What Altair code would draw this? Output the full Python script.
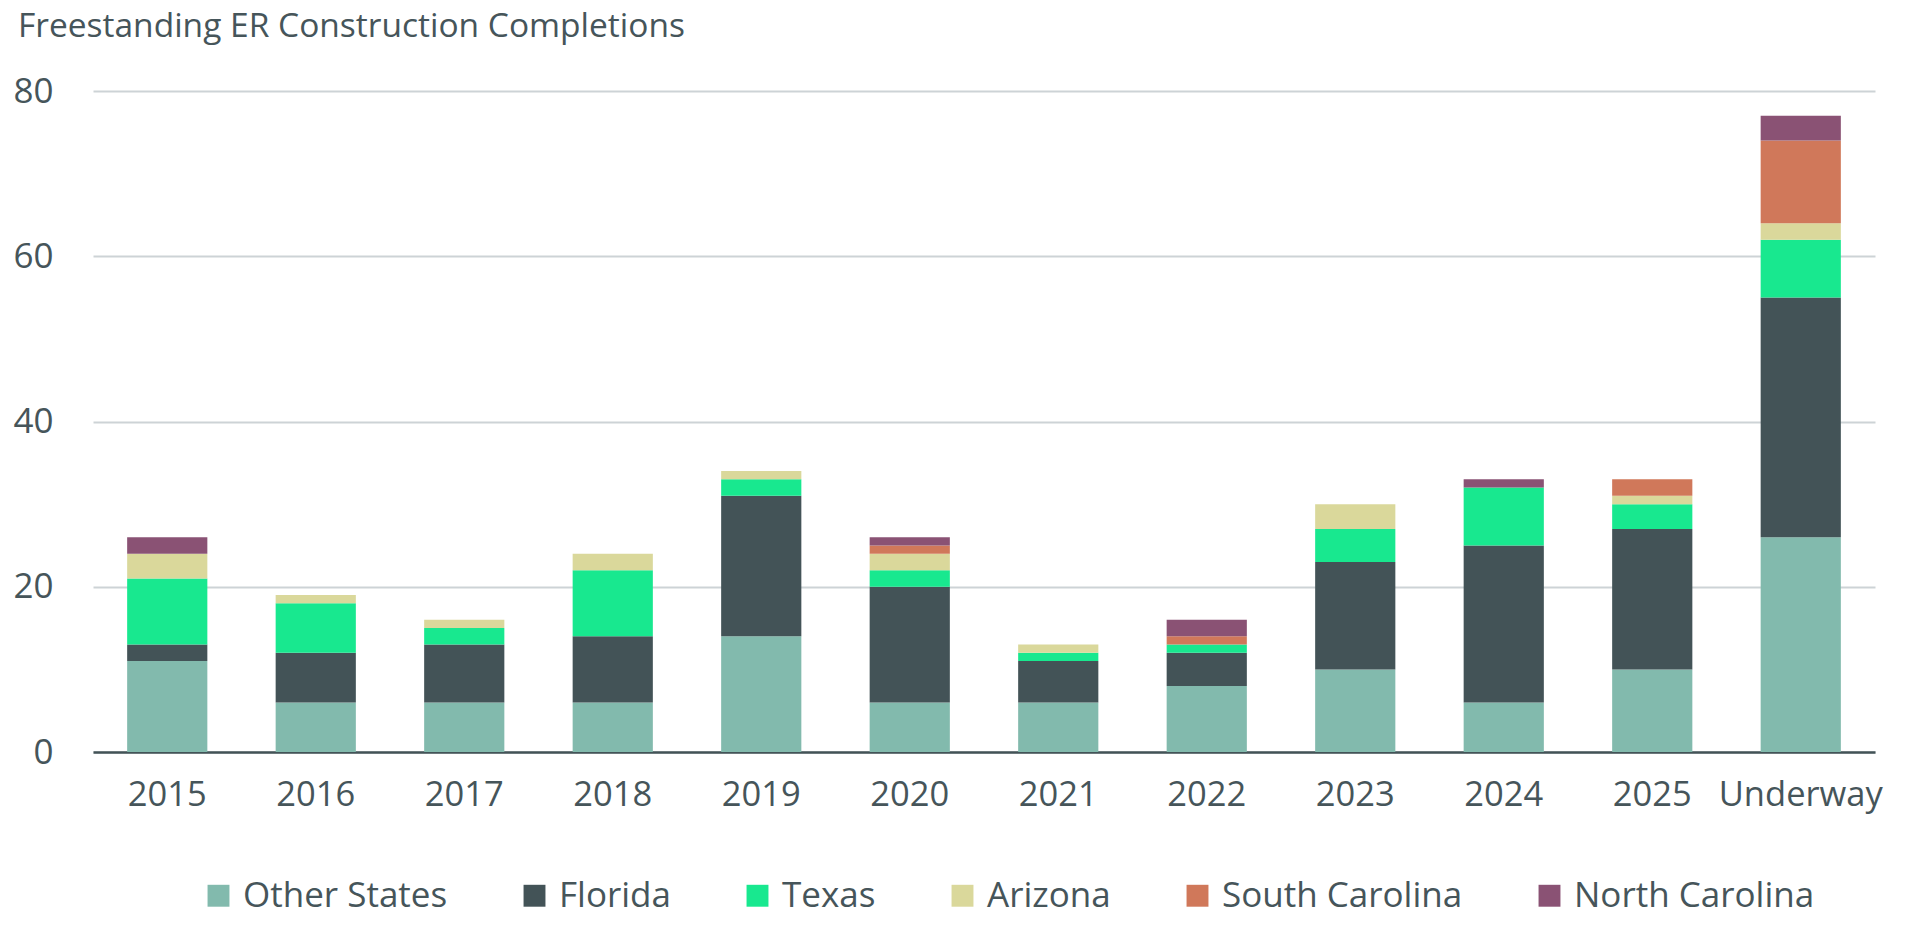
import altair as alt
import pandas as pd

# Completions per period, by state group
periods = ["2015", "2016", "2017", "2018", "2019", "2020", "2021", "2022",
           "2023", "2024", "2025", "Underway"]
states = ["Other States", "Florida", "Texas", "Arizona", "South Carolina", "North Carolina"]
colors = ["#82baad", "#435357", "#18e88f", "#dad89b", "#d0785a", "#8a5274"]

other_states   = [11, 6, 6, 6, 14, 6, 6, 8, 10, 6, 10, 26]
florida        = [2, 6, 7, 8, 17, 14, 5, 4, 13, 19, 17, 29]
texas          = [8, 6, 2, 8, 2, 2, 1, 1, 4, 7, 3, 7]
arizona        = [3, 1, 1, 2, 1, 2, 1, 0, 3, 0, 1, 2]
south_carolina = [0, 0, 0, 0, 0, 1, 0, 1, 0, 0, 2, 10]
north_carolina = [2, 0, 0, 0, 0, 1, 0, 2, 0, 1, 0, 3]

series = [other_states, florida, texas, arizona, south_carolina, north_carolina]

rows = []
for idx, (state, values) in enumerate(zip(states, series)):
    for period, v in zip(periods, values):
        rows.append({"Period": period, "State": state, "Count": v, "StackOrder": idx})
df = pd.DataFrame(rows)

TEXT = "#46555a"
FONT = "Open Sans"

chart = (
    alt.Chart(df)
    .mark_bar()
    .encode(
        x=alt.X(
            "Period:N",
            sort=periods,
            title=None,
            scale=alt.Scale(paddingInner=0.46, paddingOuter=0.23),
            axis=alt.Axis(
                labelAngle=0,
                labelFontSize=34.5,
                labelColor=TEXT,
                labelFont=FONT,
                labelPadding=26,
                ticks=False,
                domainColor="#435357",
                domainWidth=2.5,
                grid=False,
            ),
        ),
        y=alt.Y(
            "Count:Q",
            title=None,
            scale=alt.Scale(domain=[0, 80], nice=False),
            axis=alt.Axis(
                values=[0, 20, 40, 60, 80],
                labelFontSize=35,
                labelColor=TEXT,
                labelFont=FONT,
                labelPadding=40,
                ticks=False,
                domain=False,
                gridColor="#cdd3d6",
                gridWidth=2,
            ),
        ),
        color=alt.Color(
            "State:N",
            sort=states,
            scale=alt.Scale(domain=states, range=colors),
            legend=alt.Legend(
                title=None,
                orient="none",
                direction="horizontal",
                columns=6,
                legendX=108,
                legendY=787,
                symbolType="square",
                symbolSize=480,
                symbolStrokeWidth=0,
                symbolOpacity=1,
                labelFontSize=35,
                labelFont=FONT,
                labelColor=TEXT,
                labelOffset=7,
                columnPadding=69,
                labelLimit=400,
            ),
        ),
        order=alt.Order("StackOrder:Q", sort="ascending"),
    )
    .properties(
        width=1782,
        height=661,
        title=alt.TitleParams(
            "Freestanding ER Construction Completions",
            anchor="start",
            frame="group",
            fontSize=33.5,
            font=FONT,
            fontWeight="normal",
            color=TEXT,
            dx=-75,
            offset=30,
        ),
        autosize=alt.AutoSizeParams(type="none"),
        padding={"left": 93, "top": 91, "right": 45, "bottom": 175},
    )
    .configure_view(stroke=None)
)

chart.save("out.html", embed_options={"renderer": "svg", "actions": False})
